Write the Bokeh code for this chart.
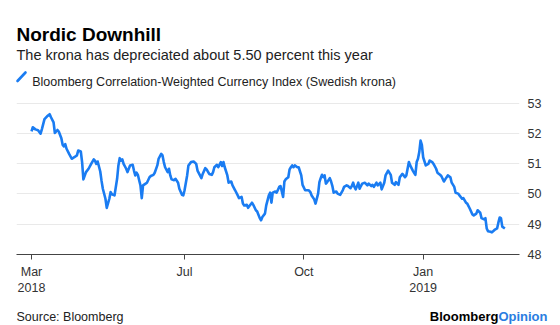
import pandas as pd
from bokeh.plotting import figure
from bokeh.layouts import column
from bokeh.models import (Range1d, FixedTicker, CustomJSTickFormatter, Label,
                          ColumnDataSource)
from bokeh.embed import file_html
from bokeh.resources import INLINE

# ---------------- data ----------------
dates = [
    "2018-03-05", "2018-03-06", "2018-03-08", "2018-03-10", "2018-03-12", "2018-03-13",
    "2018-03-15", "2018-03-17", "2018-03-19", "2018-03-20", "2018-03-22", "2018-03-23",
    "2018-03-25", "2018-03-26", "2018-03-28", "2018-03-29", "2018-03-30", "2018-03-31",
    "2018-04-01", "2018-04-03", "2018-04-05", "2018-04-07", "2018-04-09", "2018-04-10",
    "2018-04-12", "2018-04-13", "2018-04-14", "2018-04-16", "2018-04-18", "2018-04-20",
    "2018-04-22", "2018-04-23", "2018-04-24", "2018-04-25", "2018-04-27", "2018-04-28",
    "2018-04-29", "2018-05-01", "2018-05-02", "2018-05-04", "2018-05-05", "2018-05-06",
    "2018-05-08", "2018-05-10", "2018-05-11", "2018-05-12", "2018-05-13", "2018-05-14",
    "2018-05-15", "2018-05-17", "2018-05-18", "2018-05-20", "2018-05-22", "2018-05-23",
    "2018-05-24", "2018-05-25", "2018-05-26", "2018-05-27", "2018-05-28", "2018-05-29",
    "2018-05-30", "2018-06-01", "2018-06-02", "2018-06-04", "2018-06-05", "2018-06-07",
    "2018-06-08", "2018-06-10", "2018-06-11", "2018-06-13", "2018-06-14", "2018-06-15",
    "2018-06-16", "2018-06-18", "2018-06-19", "2018-06-20", "2018-06-21", "2018-06-23",
    "2018-06-24", "2018-06-26", "2018-06-27", "2018-06-29", "2018-06-30", "2018-07-01",
    "2018-07-03", "2018-07-04", "2018-07-06", "2018-07-08", "2018-07-10", "2018-07-11",
    "2018-07-14", "2018-07-15", "2018-07-17", "2018-07-18", "2018-07-20", "2018-07-22",
    "2018-07-23", "2018-07-24", "2018-07-26", "2018-07-27", "2018-07-29", "2018-07-30",
    "2018-07-31", "2018-08-01", "2018-08-03", "2018-08-04", "2018-08-06", "2018-08-07",
    "2018-08-09", "2018-08-11", "2018-08-12", "2018-08-14", "2018-08-15", "2018-08-16",
    "2018-08-18", "2018-08-19", "2018-08-20", "2018-08-22", "2018-08-23", "2018-08-25",
    "2018-08-26", "2018-08-28", "2018-08-29", "2018-08-30", "2018-09-01", "2018-09-02",
    "2018-09-04", "2018-09-05", "2018-09-06", "2018-09-07", "2018-09-09", "2018-09-10",
    "2018-09-12", "2018-09-13", "2018-09-15", "2018-09-16", "2018-09-17", "2018-09-19",
    "2018-09-20", "2018-09-21", "2018-09-22", "2018-09-23", "2018-09-24", "2018-09-26",
    "2018-09-27", "2018-09-29", "2018-09-30", "2018-10-02", "2018-10-04", "2018-10-05",
    "2018-10-06", "2018-10-07", "2018-10-09", "2018-10-10", "2018-10-12", "2018-10-13",
    "2018-10-14", "2018-10-15", "2018-10-16", "2018-10-17", "2018-10-18", "2018-10-19",
    "2018-10-21", "2018-10-22", "2018-10-23", "2018-10-24", "2018-10-26", "2018-10-27",
    "2018-10-29", "2018-10-31", "2018-11-01", "2018-11-03", "2018-11-04", "2018-11-06",
    "2018-11-07", "2018-11-08", "2018-11-09", "2018-11-10", "2018-11-12", "2018-11-13",
    "2018-11-14", "2018-11-15", "2018-11-17", "2018-11-19", "2018-11-20", "2018-11-22",
    "2018-11-23", "2018-11-24", "2018-11-26", "2018-11-27", "2018-11-29", "2018-11-30",
    "2018-12-02", "2018-12-03", "2018-12-05", "2018-12-07", "2018-12-08", "2018-12-10",
    "2018-12-11", "2018-12-13", "2018-12-14", "2018-12-16", "2018-12-17", "2018-12-18",
    "2018-12-19", "2018-12-21", "2018-12-22", "2018-12-24", "2018-12-25", "2018-12-26",
    "2018-12-27", "2018-12-28", "2018-12-29", "2018-12-30", "2018-12-31", "2019-01-01",
    "2019-01-03", "2019-01-05", "2019-01-06", "2019-01-08", "2019-01-09", "2019-01-11",
    "2019-01-12", "2019-01-14", "2019-01-15", "2019-01-17", "2019-01-18", "2019-01-20",
    "2019-01-22", "2019-01-23", "2019-01-25", "2019-01-26", "2019-01-28", "2019-01-29",
    "2019-01-31", "2019-02-01", "2019-02-03", "2019-02-04", "2019-02-06", "2019-02-08",
    "2019-02-09", "2019-02-11", "2019-02-12", "2019-02-14", "2019-02-15", "2019-02-17",
    "2019-02-18", "2019-02-19", "2019-02-20", "2019-02-22", "2019-02-23", "2019-02-25",
    "2019-02-27", "2019-02-28", "2019-03-01", "2019-03-02", "2019-03-03", "2019-03-05",
]
index_values = [
    52.06, 52.20, 52.13, 52.10, 51.99, 52.14,
    52.47, 52.56, 52.63, 52.53, 52.36, 52.01,
    52.11, 52.06, 51.84, 51.62, 51.57, 51.64,
    51.49, 51.32, 51.16, 51.21, 51.27, 51.43,
    51.40, 51.05, 50.48, 50.72, 50.83, 50.99,
    51.14, 51.09, 50.99, 51.07, 50.74, 50.43,
    50.17, 49.84, 49.54, 49.84, 50.06, 49.99,
    49.95, 50.50, 50.94, 51.18, 51.10, 51.14,
    50.99, 50.83, 50.72, 50.94, 50.96, 50.77,
    50.61, 50.70, 50.63, 50.45, 50.28, 49.86,
    50.28, 50.34, 50.37, 50.55, 50.59, 50.63,
    50.70, 50.94, 51.16, 51.32, 51.27, 51.05,
    50.88, 50.72, 50.83, 50.61, 50.48, 50.45,
    50.50, 50.37, 50.17, 49.97, 49.95, 50.12,
    50.61, 50.94, 51.05, 51.07, 50.99, 50.77,
    50.52, 50.66, 50.85, 50.81, 50.66, 50.63,
    50.72, 50.88, 50.96, 50.88, 51.05, 50.92,
    51.05, 50.88, 50.61, 50.37, 50.41, 50.28,
    50.12, 49.95, 49.86, 49.90, 49.68, 49.62,
    49.64, 49.54, 49.60, 49.71, 49.64, 49.46,
    49.42, 49.20, 49.13, 49.24, 49.35, 49.62,
    49.95, 50.04, 49.71, 50.04, 50.08, 50.04,
    50.23, 50.26, 49.90, 50.41, 50.48, 50.55,
    50.81, 50.88, 50.94, 50.88, 50.94, 50.88,
    50.88, 50.61, 50.30, 50.12, 50.12, 50.11,
    50.06, 49.95, 49.82, 49.68, 50.01, 50.39,
    50.52, 50.63, 50.55, 50.61, 50.34, 50.39,
    50.52, 50.41, 50.26, 50.04, 50.08, 50.01,
    49.97, 50.12, 50.23, 50.28, 50.26, 50.19,
    50.26, 50.37, 50.23, 50.15, 50.37, 50.17,
    50.26, 50.34, 50.37, 50.28, 50.34, 50.26,
    50.30, 50.23, 50.37, 50.28, 50.37, 50.15,
    50.37, 50.61, 50.77, 50.63, 50.37, 50.30,
    50.39, 50.30, 50.55, 50.66, 50.61, 50.55,
    50.61, 51.05, 50.94, 50.77, 50.70, 50.63,
    51.05, 51.16, 51.38, 51.76, 51.62, 51.21,
    50.94, 50.99, 51.10, 51.05, 50.99, 50.83,
    50.70, 50.63, 50.59, 50.41, 50.48, 50.61,
    50.55, 50.37, 50.23, 50.04, 50.01, 49.95,
    49.84, 49.86, 49.71, 49.68, 49.51, 49.32,
    49.29, 49.35, 49.46, 49.38, 49.20, 49.16,
    49.20, 48.86, 48.77, 48.75, 48.73, 48.81,
    48.86, 49.05, 49.22, 49.20, 48.92, 48.86,
]
y_ticks = [48, 49, 50, 51, 52, 53]
x_tick_dates = ["2018-03-05", "2018-07-01", "2018-10-01", "2019-01-01"]
x_tick_labels = ["Mar\n2018", "Jul", "Oct", "Jan\n2019"]

title_text = "Nordic Downhill"
subtitle_text = "The krona has depreciated about 5.50 percent this year"
legend_text = "Bloomberg Correlation-Weighted Currency Index (Swedish krona)"
source_text = "Source: Bloomberg"

# ---------------- style ----------------
FONT = "Liberation Sans"
BLUE = "#1a7cf2"
TXT = "#333333"
W = 560
HEAD_H = 95
FOOT_H = 25
MAIN_H = 325 - HEAD_H - FOOT_H


def blank(height, y_top):
    f = figure(width=W, height=height, output_backend="svg", toolbar_location=None,
               x_range=Range1d(0, W), y_range=Range1d(y_top + height, y_top),
               x_axis_location=None, y_axis_location=None,
               min_border=0, min_border_left=0, min_border_right=0,
               min_border_top=0, min_border_bottom=0)
    f.outline_line_color = None
    f.grid.grid_line_color = None
    f.background_fill_color = "white"
    f.border_fill_color = "white"
    f.frame_align = False
    return f


# ---------------- header ----------------
head = blank(HEAD_H, 0)
head.add_layout(Label(x=16, y=34.3, text=title_text, text_font=FONT, text_font_size="19px",
                      text_font_style="bold", text_color="#000000", text_baseline="alphabetic"))
head.add_layout(Label(x=16, y=54.3, text=subtitle_text, text_font=FONT, text_font_size="14.5px",
                      text_color="#222222", text_baseline="alphabetic"))
head.add_layout(Label(x=31.7, y=81.3, text=legend_text, text_font=FONT, text_font_size="12.5px",
                      text_color="#222222", text_baseline="alphabetic"))
head.segment(x0=[17], y0=[80.5], x1=[25], y1=[72], line_color=BLUE, line_width=2.6,
             line_cap="round")

# ---------------- main chart ----------------
src = ColumnDataSource(dict(date=pd.to_datetime(dates), value=index_values))

p = figure(width=W, height=MAIN_H, x_axis_type="datetime", y_axis_location="right",
           output_backend="svg", toolbar_location=None,
           x_range=Range1d(pd.Timestamp("2018-02-21 10:00"), pd.Timestamp("2019-03-16 07:00")),
           y_range=Range1d(48, 53.05),
           min_border_left=16, min_border_right=41, min_border_top=101 - HEAD_H,
           min_border_bottom=HEAD_H + MAIN_H - 254)
p.outline_line_color = None
p.background_fill_color = "white"
p.border_fill_color = "white"
p.frame_align = False

p.line("date", "value", source=src, line_color=BLUE, line_width=2.6, line_join="round")

ya = p.yaxis[0]
ya.ticker = FixedTicker(ticks=y_ticks)
ya.axis_line_color = None
ya.major_tick_line_color = None
ya.minor_tick_line_color = None
ya.major_tick_out = 0
ya.major_tick_in = 0
ya.major_label_standoff = 8
ya.major_label_text_font = FONT
ya.major_label_text_font_size = "12.5px"
ya.major_label_text_color = TXT

p.ygrid.ticker = FixedTicker(ticks=y_ticks)
p.ygrid.grid_line_color = "#e9e9e9"
p.ygrid.grid_line_width = 1
p.xgrid.grid_line_color = None

tick_ms = [pd.Timestamp(d).value // 10**6 for d in x_tick_dates]
xa = p.xaxis[0]
xa.ticker = FixedTicker(ticks=tick_ms)
xa.formatter = CustomJSTickFormatter(args=dict(labels=x_tick_labels),
                                     code="return labels[index];")
xa.axis_line_color = "#444444"
xa.axis_line_width = 1
xa.major_tick_line_color = "#444444"
xa.major_tick_out = 5
xa.major_tick_in = 0
xa.minor_tick_line_color = None
xa.major_label_standoff = 5
xa.major_label_text_font = FONT
xa.major_label_text_font_size = "12.5px"
xa.major_label_text_color = TXT

# ---------------- footer ----------------
foot = blank(FOOT_H, 325 - FOOT_H)
foot.add_layout(Label(x=16, y=316, text=source_text, text_font=FONT, text_font_size="12.5px",
                      text_color="#222222", text_baseline="alphabetic"))
foot.add_layout(Label(x=547, y=316, text="Opinion", text_font=FONT, text_font_size="13px",
                      text_font_style="bold", text_color="#2a7de1", text_align="right",
                      text_baseline="alphabetic"))
foot.add_layout(Label(x=497.9, y=316, text="Bloomberg", text_font=FONT, text_font_size="13px",
                      text_font_style="bold", text_color="#000000", text_align="right",
                      text_baseline="alphabetic"))

layout = column(head, p, foot, spacing=0)
open("out.html", "w").write(file_html(layout, INLINE))
